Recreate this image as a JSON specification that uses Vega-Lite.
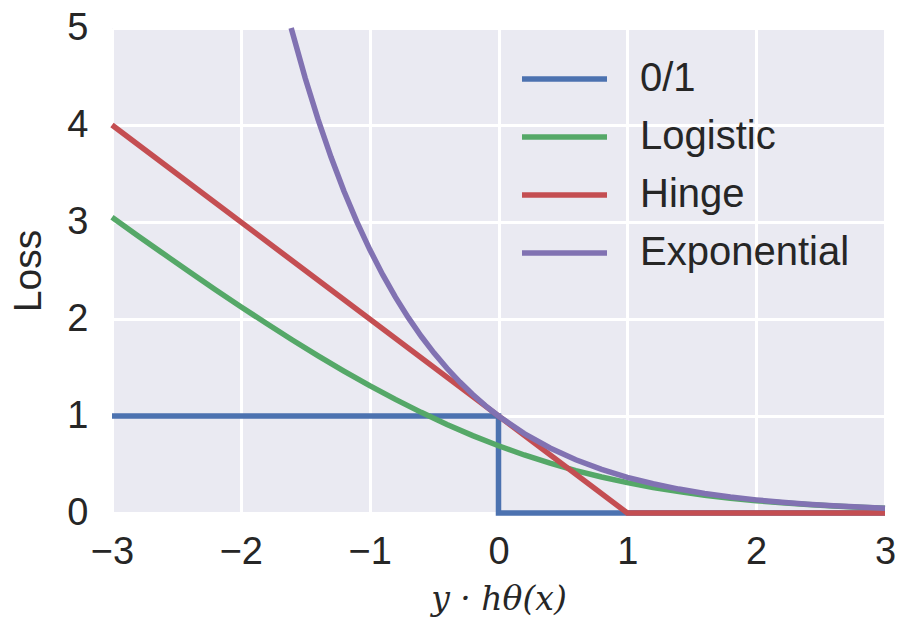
{
  "$schema": "https://vega.github.io/schema/vega-lite/v6.json",
  "autosize": "none",
  "width": 773,
  "height": 485,
  "padding": {"left": 112, "top": 28, "right": 12, "bottom": 119},
  "background": "white",
  "config": {
    "view": {"fill": "#EAEAF2", "stroke": null},
    "font": "Liberation Sans"
  },
  "data": {
    "values": [
      {"series": "0/1", "i": 0, "z": -3, "loss": 1},
      {"series": "0/1", "i": 1, "z": 0, "loss": 1},
      {"series": "0/1", "i": 2, "z": 0, "loss": 0},
      {"series": "0/1", "i": 3, "z": 3, "loss": 0},

      {"series": "Logistic", "i": 0, "z": -3.0, "loss": 3.0486},
      {"series": "Logistic", "i": 1, "z": -2.8, "loss": 2.8591},
      {"series": "Logistic", "i": 2, "z": -2.6, "loss": 2.6716},
      {"series": "Logistic", "i": 3, "z": -2.4, "loss": 2.4868},
      {"series": "Logistic", "i": 4, "z": -2.2, "loss": 2.3051},
      {"series": "Logistic", "i": 5, "z": -2.0, "loss": 2.1269},
      {"series": "Logistic", "i": 6, "z": -1.8, "loss": 1.953},
      {"series": "Logistic", "i": 7, "z": -1.6, "loss": 1.7839},
      {"series": "Logistic", "i": 8, "z": -1.4, "loss": 1.6205},
      {"series": "Logistic", "i": 9, "z": -1.2, "loss": 1.4633},
      {"series": "Logistic", "i": 10, "z": -1.0, "loss": 1.3133},
      {"series": "Logistic", "i": 11, "z": -0.8, "loss": 1.1711},
      {"series": "Logistic", "i": 12, "z": -0.6, "loss": 1.0375},
      {"series": "Logistic", "i": 13, "z": -0.4, "loss": 0.913},
      {"series": "Logistic", "i": 14, "z": -0.2, "loss": 0.7981},
      {"series": "Logistic", "i": 15, "z": 0.0, "loss": 0.6931},
      {"series": "Logistic", "i": 16, "z": 0.2, "loss": 0.5981},
      {"series": "Logistic", "i": 17, "z": 0.4, "loss": 0.513},
      {"series": "Logistic", "i": 18, "z": 0.6, "loss": 0.4375},
      {"series": "Logistic", "i": 19, "z": 0.8, "loss": 0.3711},
      {"series": "Logistic", "i": 20, "z": 1.0, "loss": 0.3133},
      {"series": "Logistic", "i": 21, "z": 1.2, "loss": 0.2633},
      {"series": "Logistic", "i": 22, "z": 1.4, "loss": 0.2204},
      {"series": "Logistic", "i": 23, "z": 1.6, "loss": 0.1839},
      {"series": "Logistic", "i": 24, "z": 1.8, "loss": 0.153},
      {"series": "Logistic", "i": 25, "z": 2.0, "loss": 0.1269},
      {"series": "Logistic", "i": 26, "z": 2.2, "loss": 0.1051},
      {"series": "Logistic", "i": 27, "z": 2.4, "loss": 0.0868},
      {"series": "Logistic", "i": 28, "z": 2.6, "loss": 0.0716},
      {"series": "Logistic", "i": 29, "z": 2.8, "loss": 0.059},
      {"series": "Logistic", "i": 30, "z": 3.0, "loss": 0.0486},

      {"series": "Hinge", "i": 0, "z": -3, "loss": 4},
      {"series": "Hinge", "i": 1, "z": 1, "loss": 0},
      {"series": "Hinge", "i": 2, "z": 3, "loss": 0},

      {"series": "Exponential", "i": 0, "z": -1.6094, "loss": 5.0},
      {"series": "Exponential", "i": 1, "z": -1.5, "loss": 4.4817},
      {"series": "Exponential", "i": 2, "z": -1.4, "loss": 4.0552},
      {"series": "Exponential", "i": 3, "z": -1.3, "loss": 3.6693},
      {"series": "Exponential", "i": 4, "z": -1.2, "loss": 3.3201},
      {"series": "Exponential", "i": 5, "z": -1.1, "loss": 3.0042},
      {"series": "Exponential", "i": 6, "z": -1.0, "loss": 2.7183},
      {"series": "Exponential", "i": 7, "z": -0.9, "loss": 2.4596},
      {"series": "Exponential", "i": 8, "z": -0.8, "loss": 2.2255},
      {"series": "Exponential", "i": 9, "z": -0.7, "loss": 2.0138},
      {"series": "Exponential", "i": 10, "z": -0.6, "loss": 1.8221},
      {"series": "Exponential", "i": 11, "z": -0.5, "loss": 1.6487},
      {"series": "Exponential", "i": 12, "z": -0.4, "loss": 1.4918},
      {"series": "Exponential", "i": 13, "z": -0.3, "loss": 1.3499},
      {"series": "Exponential", "i": 14, "z": -0.2, "loss": 1.2214},
      {"series": "Exponential", "i": 15, "z": -0.1, "loss": 1.1052},
      {"series": "Exponential", "i": 16, "z": 0.0, "loss": 1.0},
      {"series": "Exponential", "i": 17, "z": 0.2, "loss": 0.8187},
      {"series": "Exponential", "i": 18, "z": 0.4, "loss": 0.6703},
      {"series": "Exponential", "i": 19, "z": 0.6, "loss": 0.5488},
      {"series": "Exponential", "i": 20, "z": 0.8, "loss": 0.4493},
      {"series": "Exponential", "i": 21, "z": 1.0, "loss": 0.3679},
      {"series": "Exponential", "i": 22, "z": 1.2, "loss": 0.3012},
      {"series": "Exponential", "i": 23, "z": 1.4, "loss": 0.2466},
      {"series": "Exponential", "i": 24, "z": 1.6, "loss": 0.2019},
      {"series": "Exponential", "i": 25, "z": 1.8, "loss": 0.1653},
      {"series": "Exponential", "i": 26, "z": 2.0, "loss": 0.1353},
      {"series": "Exponential", "i": 27, "z": 2.2, "loss": 0.1108},
      {"series": "Exponential", "i": 28, "z": 2.4, "loss": 0.0907},
      {"series": "Exponential", "i": 29, "z": 2.6, "loss": 0.0743},
      {"series": "Exponential", "i": 30, "z": 2.8, "loss": 0.0608},
      {"series": "Exponential", "i": 31, "z": 3.0, "loss": 0.0498}
    ]
  },
  "mark": {"type": "line", "strokeWidth": 5.5},
  "encoding": {
    "x": {
      "field": "z",
      "type": "quantitative",
      "title": "y · hθ(x)",
      "scale": {"domain": [-3, 3], "nice": false, "zero": false},
      "axis": {
        "values": [-3, -2, -1, 0, 1, 2, 3],
        "format": "d",
        "domain": false,
        "ticks": false,
        "grid": true,
        "gridColor": "white",
        "gridWidth": 3,
        "labelFontSize": 38,
        "labelColor": "#262626",
        "labelPadding": 20,
        "labelFlush": false,
        "titleFont": "DejaVu Serif",
        "titleFontStyle": "italic",
        "titleFontWeight": "normal",
        "titleFontSize": 33,
        "titleColor": "#262626",
        "titlePadding": 12
      }
    },
    "y": {
      "field": "loss",
      "type": "quantitative",
      "title": "Loss",
      "scale": {"domain": [0, 5], "nice": false},
      "axis": {
        "values": [0, 1, 2, 3, 4, 5],
        "domain": false,
        "ticks": false,
        "grid": true,
        "gridColor": "white",
        "gridWidth": 3,
        "labelFontSize": 38,
        "labelColor": "#262626",
        "labelPadding": 24,
        "labelFlush": false,
        "titleFontSize": 39,
        "titleFontWeight": "normal",
        "titleColor": "#262626",
        "titlePadding": 18
      }
    },
    "color": {
      "field": "series",
      "type": "nominal",
      "sort": null,
      "scale": {
        "domain": ["0/1", "Logistic", "Hinge", "Exponential"],
        "range": ["#4C72B0", "#55A868", "#C44E52", "#8172B2"]
      },
      "legend": {
        "title": null,
        "orient": "none",
        "legendX": 407,
        "legendY": 22,
        "symbolType": "stroke",
        "symbolSize": 7225,
        "symbolStrokeWidth": 5.5,
        "labelFontSize": 40,
        "labelColor": "#262626",
        "labelOffset": 30,
        "rowPadding": 0,
        "clipHeight": 58,
        "labelLimit": 400
      }
    },
    "order": {"field": "i", "type": "quantitative"}
  }
}
